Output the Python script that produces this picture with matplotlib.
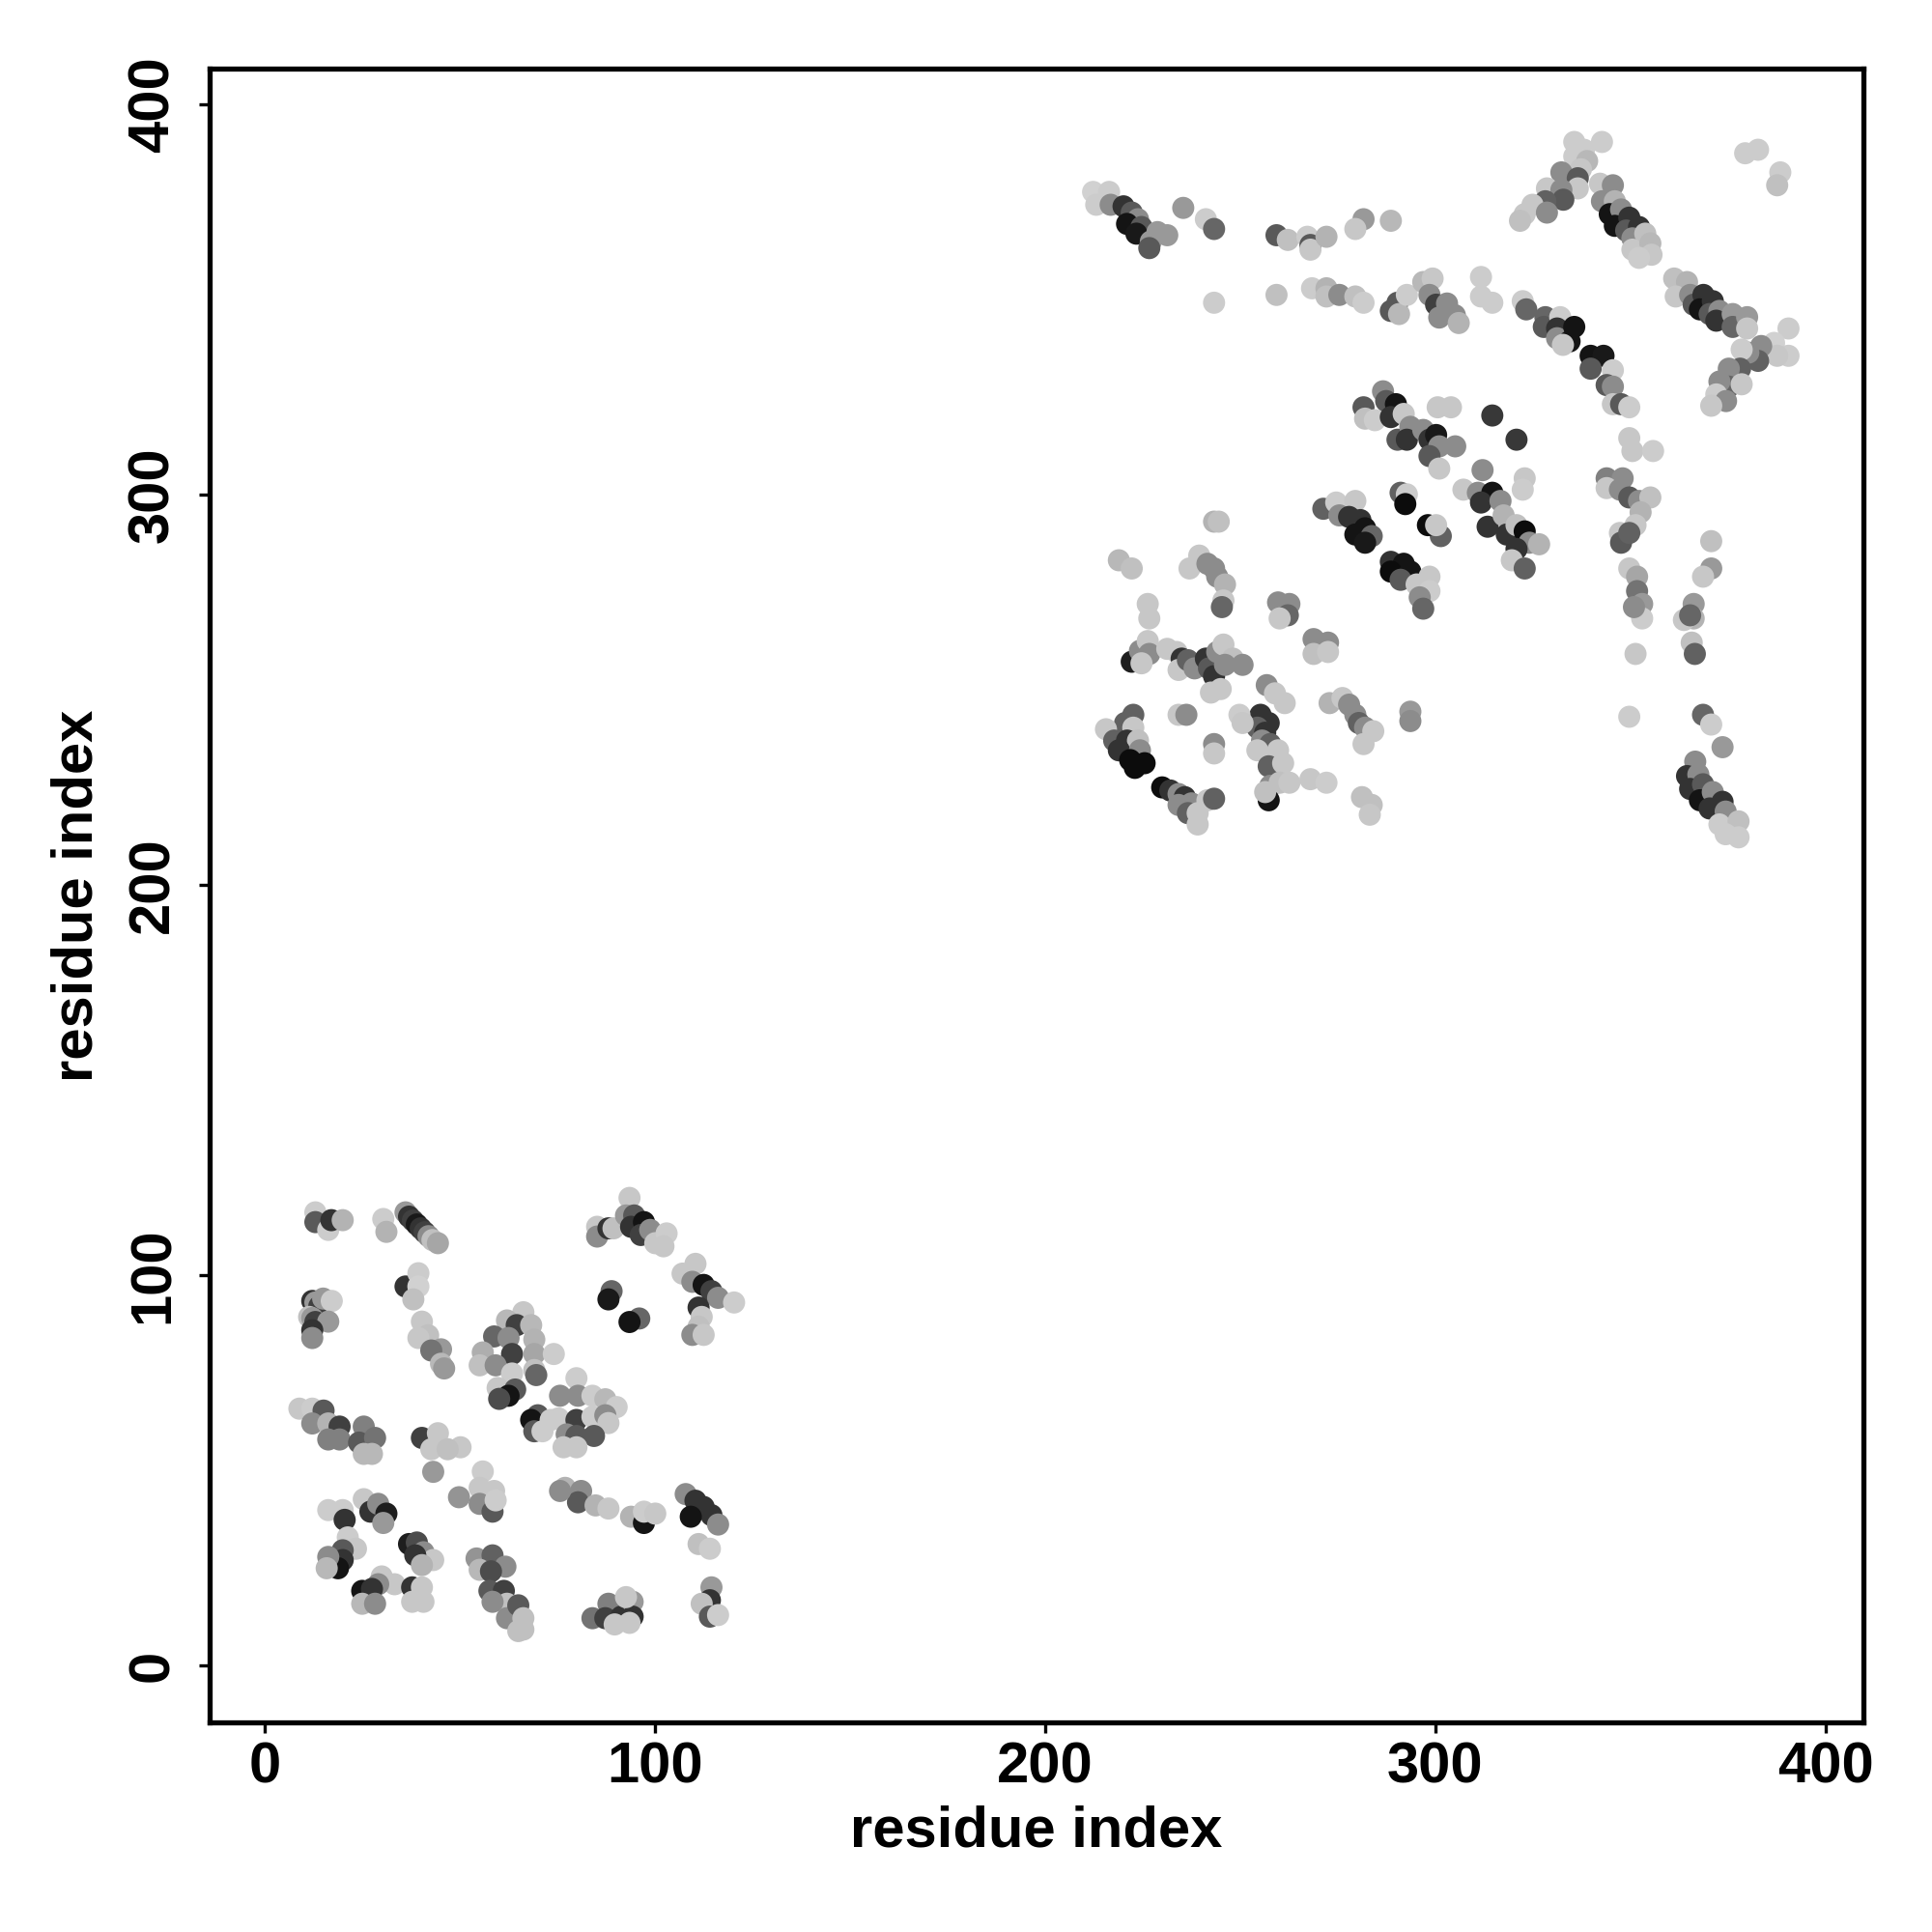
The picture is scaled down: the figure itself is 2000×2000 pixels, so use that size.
import matplotlib
matplotlib.use("Agg")
import matplotlib.pyplot as plt

plt.rcParams['font.family'] = ['Liberation Sans', 'DejaVu Sans']
plt.rcParams['font.weight'] = 'bold'

# ---- domain 1 (lower-left block) : residue i, residue j, grey shade (0=black, 1=white)
dom1_i = [13.0, 13.0, 16.3, 17.1, 20.0,
          30.4, 31.2, 36.1, 37, 38, 39, 40, 41, 42, 43, 44.4,
          36.1, 39.4, 39.4, 38.1,
          12.2, 13, 14, 15, 17.2, 11.4, 12.2, 13, 16.3, 12.2, 12.2,
          40.3, 41.9, 39.4, 45.2, 42.7, 45.2, 46.0,
          88.9, 88.1, 96.0, 93.5,
          66.3, 62.1, 64.6, 68.3, 58.8, 62.5, 69.1, 55.9, 63.4, 69.1, 74.1, 55.1, 59.2, 63.4, 69.1, 69.6, 59.7, 64.2, 62.5, 60.1,
          79.9, 75.7, 80.3, 84.0, 87.3, 90.2, 70.0, 68.3, 73.3, 75.3, 79.9, 84.0, 87.3, 88.1, 69.1, 71.2, 77.4, 79.9, 84.4, 76.6, 79.9, 50.2,
          93.5, 85.2, 85.2, 88.1, 89.4, 92.6, 94.7, 93.9, 97.2, 96.4, 98.8, 100.1, 103.0, 102.2,
          110.4, 107.1, 109.6, 112.5, 114.5, 116.2, 120.3, 111.2, 112.0, 111.2, 109.6, 112.5,
          8.9, 12.2, 15.1, 12.2, 16.3, 19.2, 16.3, 19.2, 25.4, 24.2, 28.3, 25.4, 27.5,
          40.3, 44.4, 42.7, 46.9, 43.2, 49.8,
          55.9, 55.1, 58.8, 55.1, 58.4, 59.2,
          16.3, 20.0, 20.5,
          25.4, 27.1, 29.1, 31.2, 30.4,
          21.3, 23.4, 20.0, 20.0, 18.8, 16.3, 15.9,
          37.0, 39.0, 40.7, 43.2, 38.6, 40.3,
          30.0, 33.3, 29.1, 25.0, 27.5, 25.0, 28.3,
          37.8, 40.3, 37.8, 40.7,
          54.3, 58.4, 61.7, 55.1, 58.0,
          57.6, 61.3, 62.1, 58.4, 64.6, 62.1, 65.0,
          77.0, 81.1, 80.3, 84.8, 88.1, 75.7,
          93.9, 97.2, 97.2, 100.1,
          107.9, 110.4, 112.5, 114.5, 116.2, 109.2, 111.2, 114.1,
          114.5, 114.1, 112.0, 114.1, 116.2,
          84.0, 88.1, 87.3, 91.4, 94.3, 94.3, 92.6, 89.7, 93.5,
          65.0, 66.3, 66.3]
dom1_j = [116.1, 113.6, 111.6, 114.1, 114.1,
          114.4, 111.1, 116.1, 115, 114, 113, 112, 111, 110, 109, 108.2,
          97.1, 100.5, 97.1, 93.8,
          93.4, 93, 92, 94, 93.4, 89.3, 89, 88, 88.1, 85.9, 83.9,
          88.1, 84.6, 83.9, 81.0, 80.7, 77.3, 76.1,
          95.9, 93.8, 88.9, 88.0,
          90.5, 88.4, 87.2, 87.2, 84.3, 83.9, 83.5, 80.2, 79.8, 79.8, 79.8, 76.9, 76.9, 74.8, 75.7, 74.4, 71.1, 70.7, 69.1, 68.3,
          73.6, 69.1, 69.1, 69.1, 68.2, 66.2, 64.1, 62.9, 62.9, 63.3, 62.9, 63.7, 64.1, 62.1, 60.0, 60.0, 59.2, 58.8, 58.8, 55.9, 55.9, 55.9,
          119.8, 112.4, 109.9, 112.0, 112.0, 115.3, 115.3, 112.4, 113.6, 110.3, 111.6, 108.2, 110.7, 107.4,
          102.9, 100.4, 98.3, 97.5, 95.9, 94.2, 93.0, 91.7, 89.3, 86.8, 84.7, 84.7,
          65.8, 65.8, 65.3, 62.0, 62.0, 61.2, 57.9, 57.9, 61.2, 57.1, 58.3, 54.2, 54.2,
          58.3, 59.5, 55.4, 55.4, 49.6, 43.1,
          49.7, 45.5, 44.7, 41.4, 39.4, 42.3,
          39.8, 39.8, 37.3,
          42.6, 39.4, 41.4, 38.9, 36.5,
          32.8, 29.9, 29.5, 27.0, 24.9, 27.8, 24.9,
          31.1, 31.5, 29.0, 27.0, 28.2, 25.7,
          22.8, 20.8, 20.8, 19.1, 19.6, 15.8, 15.8,
          20.0, 20.0, 16.3, 16.3,
          27.4, 28.2, 25.3, 24.5, 24.1,
          19.1, 19.1, 15.8, 16.3, 13.4, 12.1, 8.8,
          45.5, 44.7, 41.8, 41.0, 40.2, 44.7,
          38.1, 36.5, 39.4, 38.9,
          43.9, 42.2, 40.6, 38.5, 36.1, 38.1, 31.1, 29.9,
          20.0, 16.7, 15.8, 12.5, 12.9,
          12.1, 15.8, 12.1, 12.5, 16.3, 12.5, 17.5, 10.5, 10.9,
          15.4, 12.1, 9.2]
dom1_g = [0.80, 0.35, 0.80, 0.20, 0.70,
          0.80, 0.70, 0.60, 0.20, 0.25, 0.10, 0.20, 0.25, 0.55, 0.75, 0.65,
          0.20, 0.80, 0.82, 0.75,
          0.20, 0.60, 0.25, 0.60, 0.80, 0.75, 0.60, 0.25, 0.60, 0.20, 0.55,
          0.78, 0.75, 0.78, 0.60, 0.45, 0.72, 0.60,
          0.40, 0.10, 0.40, 0.08,
          0.78, 0.72, 0.25, 0.72, 0.40, 0.55, 0.70, 0.68, 0.25, 0.65, 0.80, 0.75, 0.55, 0.80, 0.75, 0.40, 0.78, 0.35, 0.08, 0.30,
          0.80, 0.55, 0.55, 0.80, 0.72, 0.80, 0.35, 0.08, 0.80, 0.80, 0.25, 0.80, 0.55, 0.78, 0.35, 0.80, 0.55, 0.35, 0.35, 0.78, 0.78, 0.78,
          0.78, 0.78, 0.55, 0.20, 0.75, 0.60, 0.35, 0.20, 0.08, 0.25, 0.55, 0.78, 0.80, 0.78,
          0.78, 0.78, 0.55, 0.08, 0.25, 0.55, 0.80, 0.20, 0.78, 0.75, 0.55, 0.78,
          0.78, 0.80, 0.35, 0.55, 0.70, 0.25, 0.50, 0.50, 0.50, 0.35, 0.45, 0.72, 0.72,
          0.25, 0.78, 0.78, 0.75, 0.60, 0.58,
          0.80, 0.78, 0.78, 0.55, 0.35, 0.80,
          0.80, 0.80, 0.20,
          0.78, 0.20, 0.55, 0.12, 0.60,
          0.80, 0.78, 0.35, 0.20, 0.08, 0.55, 0.72,
          0.12, 0.30, 0.55, 0.78, 0.20, 0.70,
          0.78, 0.78, 0.55, 0.08, 0.20, 0.72, 0.55,
          0.20, 0.78, 0.78, 0.78,
          0.58, 0.38, 0.55, 0.72, 0.30,
          0.35, 0.25, 0.75, 0.55, 0.35, 0.55, 0.75,
          0.70, 0.55, 0.35, 0.70, 0.78, 0.55,
          0.70, 0.08, 0.80, 0.78,
          0.55, 0.20, 0.20, 0.20, 0.55, 0.08, 0.75, 0.80,
          0.60, 0.20, 0.75, 0.35, 0.80,
          0.45, 0.50, 0.25, 0.20, 0.60, 0.20, 0.78, 0.78, 0.78,
          0.35, 0.75, 0.75]

# ---- domain 2 (upper-right block)
dom2_i = [212.3, 216.4, 213.1, 216.8, 220.1, 222.2, 223.8, 221.0, 224.7, 223.4, 227.1, 228.8, 231.3, 226.7,
          235.4, 241.2, 243.3, 243.3,
          259.3, 262.2, 267.2, 268.0, 268.0, 272.1,
          281.6, 279.5, 288.6,
          259.3, 268.4, 272.1, 272.1, 275.4, 279.5, 281.6,
          288.6, 290.3, 290.7, 292.7, 296.9, 299.3, 298.5, 300.2, 301.0, 303, 305, 306,
          281.6, 282.0, 284.5, 286.6, 287.4, 289.9, 288.6, 291.9, 290.3, 293.6, 292.7, 296.9, 298.5, 300.2, 301.0, 298.5, 301.0, 300.6, 304,
          335.6, 342.7, 338.1, 335.6, 338.9, 337.3, 332.3, 336.5, 336.5, 328.6, 332.3, 332.8, 328.2, 324.9, 328.6, 322.9, 321.7,
          342.2, 345.5, 342.7, 346.0, 344.7, 347.6, 346.0, 349.7, 348.9, 352.2, 350.5, 353.8, 350.5, 355.1, 355.4, 352.2,
          379.4, 382.7, 388.4, 387.6,
          311.7, 311.7, 314.6,
          322.4, 323.3, 328.2, 327.8, 332.0, 331.2, 331.2, 335.6, 334.4, 332.7,
          339.8, 343.1, 339.8, 345.5, 343.9, 345.5, 345.5, 347.6, 349.7,
          361.2, 364.5, 361.6, 365.3, 366.2, 368.7, 367.8, 371.1, 370.3, 372.8, 372.0, 376.2, 376.2, 379.9, 379.9,
          390.5, 386.8, 390.5, 387.6, 383.5, 382.7, 380.2, 378.5, 378.1, 375.2, 375.2, 372.8, 372.0, 374.5, 370.7, 378.5,
          314.6, 320.8,
          349.7, 350.5, 355.8,
          305.1, 312.1, 322.9, 343.9, 348.0,
          307.2, 310.9, 314.6, 311.7, 316.7, 313.4, 317.5, 318.3, 320.8, 322.9, 324.1, 326.6, 320.8, 319.6, 322.9, 322.4,
          343.9, 347.3, 349.7, 352.2, 355.1, 352.6, 351.3, 347.3, 347.6, 349.7,
          349.7, 351.7, 351.7, 353.0, 353.0, 350.9,
          370.7, 370.7, 368.6,
          366.2, 366.2, 363.7, 365.3, 365.7, 366.5,
          351.3, 349.7,
          368.6, 370.7, 373.6,
          366.6, 364.5, 367.4, 365.3, 368.6, 367.8, 371.1, 370.3, 373.6, 374.4, 372.8, 377.7, 377.7, 374.4,
          301.4,
          271.3, 274.6, 279.5, 275.4, 277.9, 280.8, 282.0, 279.5, 283.7, 282.0,
          291.1, 292.7, 292.3,
          298.1, 300.2,
          288.6, 291.9, 288.6, 293.6, 291.1, 295.2, 298.5, 298.5, 296.0, 296.9,
          243.3, 244.5,
          218.9, 222.2,
          237.0, 239.5, 241.6, 243.3, 244.1, 246.1, 245.7, 245.3,
          226.3, 226.7,
          259.7, 262.6, 262.2, 260.1,
          268.8, 272.5, 268.8, 272.5,
          222.2, 224.3, 226.3, 226.7, 224.7,
          231.3, 233.7, 235.0, 234.2, 236.6, 238.3, 241.2, 242.0, 243.3, 242.5, 245.0,
          244.1, 245.7, 248.1, 250.6, 246.1,
          222.6, 220.5, 222.6, 215.6, 217.7, 221.0, 223.8, 218.9, 224.3, 221.8, 225.5, 223.0,
          234.2, 236.2,
          243.3, 243.3,
          256.8, 258.9, 261.4, 255.2, 257.3, 254.4, 256.4, 249.8, 250.6, 255.6, 257.7, 254.4, 259.7, 258.9, 257.3, 261.0,
          257.7, 260.1, 262.6, 257.3, 256.4,
          268.0, 272.1,
          281.2, 283.7, 283.2,
          272.9, 276.2, 277.9, 279.5, 280.4, 282.0, 284.1, 281.6,
          293.6, 293.6,
          230.0, 232.1, 234.2, 235.8, 234.2, 237.5, 236.6, 239.1, 239.1, 241.6, 243.3]
dom2_j = [377.6, 377.6, 374.3, 374.3, 373.9, 372.3, 370.6, 369.4, 368.6, 366.9, 364.9, 367.3, 366.5, 363.2,
          373.5, 370.6, 368.1, 349.2,
          366.5, 365.3, 366.1, 364.0, 362.8, 366.1,
          370.6, 368.1, 370.2,
          351.2, 352.9, 352.9, 350.8, 351.2, 350.8, 349.2,
          347.1, 349.2, 346.3, 351.2, 354.5, 355.4, 351.2, 348.7, 345.4, 349, 346, 344,
          322.4, 319.5, 319.1, 326.5, 324.0, 323.2, 319.9, 320.7, 314.1, 317.4, 314.1, 316.6, 314.1, 315.3, 312.4, 309.9, 306.7, 322.4, 322.4,
          390.4, 390.4, 388.4, 386.7, 385.5, 383.4, 382.6, 381.1, 378.5, 378.5, 378.1, 375.6, 375.2, 374.3, 372.3, 371.9, 370.2,
          379.7, 379.3, 375.2, 375.2, 371.9, 373.1, 368.9, 371.0, 367.7, 368.6, 365.7, 366.9, 362.8, 364.4, 361.5, 360.7,
          387.5, 388.4, 382.6, 379.3,
          355.8, 350.8, 349.2,
          349.6, 347.5, 345.5, 343.0, 345.5, 342.6, 340.1, 343.0, 339.3, 338.4,
          335.6, 335.6, 332.3, 331.9, 328.1, 327.7, 323.2, 323.2, 322.4,
          355.4, 354.5, 350.8, 351.2, 348.7, 351.2, 347.5, 349.6, 346.3, 347.1, 344.6, 346.3, 343.0, 345.5, 342.6,
          342.6, 338.9, 335.6, 335.6, 338.1, 334.3, 336.4, 337.2, 332.3, 332.3, 327.7, 329.0, 325.7, 324.0, 322.8, 328.3,
          320.3, 314.1,
          314.5, 311.2, 311.2,
          312.4, 306.3, 304.2, 304.2, 304.2,
          301.3, 300.5, 300.5, 298.0, 298.4, 291.8, 294.7, 289.8, 292.2, 290.6, 287.7, 287.3, 286.1, 283.2, 281.1, 301.3,
          301.7, 301.3, 299.3, 298.4, 299.3, 295.5, 292.2, 290.2, 287.7, 290.2,
          281.1, 279.0, 275.3, 272.0, 268.3, 271.2,
          288.1, 281.1, 279.0,
          272.0, 268.3, 267.9, 269.1, 262.1, 259.2,
          259.2, 243.1,
          243.6, 241.1, 235.3,
          231.6, 227.9, 228.3, 224.6, 225.8, 221.7, 223.8, 219.6, 221.3, 218.8, 215.5, 216.3, 212.2, 213.0,
          289.4,
          296.4, 298.0, 298.4, 294.7, 294.3, 293.5, 291.4, 289.8, 289.4, 287.7,
          300.5, 300.1, 297.6,
          292.2, 292.2,
          282.8, 282.3, 280.3, 280.3, 278.2, 277.0, 279.0, 275.3, 273.7, 270.8,
          293.1, 293.1,
          283.2, 281.1,
          281.1, 284.4, 282.3, 281.1, 279.0, 277.0, 272.9, 271.2,
          272.0, 268.3,
          272.4, 272.0, 269.1, 268.3,
          263.0, 262.1, 259.2, 259.7,
          257.2, 260.0, 262.5, 259.2, 256.8,
          260.5, 259.7, 258.0, 255.1, 257.6, 255.5, 258.0, 255.5, 253.5, 249.3, 250.2,
          259.7, 261.6, 258.0, 256.4, 256.4,
          243.6, 241.5, 240.3, 239.9, 237.0, 237.0, 237.0, 234.5, 234.5, 232.0, 231.2, 230.0,
          243.6, 243.6,
          236.1, 233.7,
          251.2, 249.1, 246.6, 243.6, 241.5, 240.3, 239.0, 243.6, 241.5, 237.0, 236.1, 234.5, 234.5, 232.0, 230.4, 231.2,
          225.4, 226.2, 226.2, 221.7, 223.8,
          227.1, 226.2,
          222.5, 220.5, 218.0,
          246.6, 247.9, 246.2, 243.6, 241.5, 240.3, 239.4, 236.1,
          244.4, 242.0,
          225.0, 224.2, 223.3, 222.5, 220.5, 220.9, 218.4, 218.4, 215.5, 221.7, 222.1]
dom2_g = [0.82, 0.80, 0.80, 0.55, 0.20, 0.35, 0.55, 0.08, 0.35, 0.10, 0.60, 0.60, 0.60, 0.35,
          0.60, 0.80, 0.40, 0.80,
          0.35, 0.75, 0.80, 0.35, 0.78, 0.70,
          0.60, 0.78, 0.72,
          0.75, 0.80, 0.70, 0.75, 0.55, 0.75, 0.80,
          0.35, 0.35, 0.72, 0.80, 0.72, 0.78, 0.55, 0.25, 0.55, 0.55, 0.55, 0.70,
          0.35, 0.75, 0.80, 0.55, 0.35, 0.08, 0.20, 0.78, 0.35, 0.55, 0.20, 0.55, 0.20, 0.10, 0.55, 0.35, 0.78, 0.78, 0.78,
          0.80, 0.80, 0.80, 0.80, 0.72, 0.78, 0.55, 0.35, 0.78, 0.78, 0.55, 0.35, 0.38, 0.78, 0.55, 0.78, 0.75,
          0.78, 0.55, 0.55, 0.70, 0.08, 0.55, 0.08, 0.20, 0.35, 0.20, 0.55, 0.75, 0.78, 0.72, 0.78, 0.80,
          0.80, 0.80, 0.80, 0.75,
          0.80, 0.80, 0.80,
          0.80, 0.40, 0.40, 0.35, 0.80, 0.20, 0.55, 0.08, 0.08, 0.78,
          0.08, 0.10, 0.35, 0.80, 0.35, 0.55, 0.78, 0.35, 0.80,
          0.75, 0.70, 0.78, 0.55, 0.35, 0.20, 0.08, 0.20, 0.35, 0.55, 0.20, 0.60, 0.40, 0.60, 0.78,
          0.80, 0.82, 0.80, 0.78, 0.55, 0.38, 0.55, 0.80, 0.38, 0.55, 0.40, 0.55, 0.80, 0.55, 0.78, 0.78,
          0.22, 0.22,
          0.78, 0.78, 0.80,
          0.55, 0.55, 0.78, 0.50, 0.55,
          0.78, 0.55, 0.08, 0.20, 0.55, 0.20, 0.70, 0.20, 0.75, 0.05, 0.55, 0.70, 0.20, 0.78, 0.38, 0.80,
          0.78, 0.55, 0.35, 0.55, 0.75, 0.70, 0.78, 0.78, 0.35, 0.38,
          0.78, 0.65, 0.45, 0.60, 0.80, 0.55,
          0.75, 0.60, 0.78,
          0.60, 0.70, 0.78, 0.40, 0.75, 0.38,
          0.78, 0.80,
          0.40, 0.80, 0.60,
          0.55, 0.20, 0.55, 0.20, 0.35, 0.08, 0.55, 0.20, 0.20, 0.55, 0.80, 0.75, 0.80, 0.80,
          0.38,
          0.38, 0.80, 0.78, 0.55, 0.20, 0.20, 0.08, 0.08, 0.40, 0.10,
          0.38, 0.80, 0.05,
          0.05, 0.78,
          0.20, 0.08, 0.05, 0.08, 0.35, 0.78, 0.78, 0.80, 0.55, 0.40,
          0.70, 0.75,
          0.72, 0.75,
          0.78, 0.78, 0.55, 0.55, 0.55, 0.70, 0.78, 0.40,
          0.78, 0.78,
          0.55, 0.55, 0.40, 0.78,
          0.55, 0.55, 0.75, 0.78,
          0.12, 0.55, 0.78, 0.55, 0.78,
          0.78, 0.78, 0.20, 0.78, 0.38, 0.55, 0.20, 0.35, 0.20, 0.78, 0.78,
          0.55, 0.78, 0.75, 0.55, 0.55,
          0.38, 0.38, 0.78, 0.78, 0.38, 0.20, 0.75, 0.20, 0.55, 0.05, 0.05, 0.05,
          0.78, 0.55,
          0.55, 0.78,
          0.55, 0.78, 0.78, 0.20, 0.20, 0.38, 0.20, 0.80, 0.78, 0.55, 0.38, 0.78, 0.78, 0.78, 0.38, 0.78,
          0.55, 0.75, 0.78, 0.08, 0.75,
          0.78, 0.80,
          0.75, 0.75, 0.78,
          0.70, 0.78, 0.55, 0.55, 0.38, 0.55, 0.78, 0.78,
          0.60, 0.55,
          0.05, 0.20, 0.55, 0.20, 0.55, 0.55, 0.38, 0.78, 0.78, 0.78, 0.38]

ticks = [0, 100, 200, 300, 400]
xlabel = "residue index"
ylabel = "residue index"

fig = plt.figure(figsize=(10, 10), dpi=200)
ax = fig.add_axes([0.1085, 0.1085, 0.856, 0.856])

for ii, jj, gg in [(dom1_i, dom1_j, dom1_g), (dom2_i, dom2_j, dom2_g)]:
    ax.scatter(ii, jj, c=gg, cmap='gray', vmin=0, vmax=1, s=68, linewidths=0, zorder=2)

ax.set_xlim(-14.1, 409.7)
ax.set_ylim(-14.6, 409.2)
ax.set_xticks(ticks)
ax.set_yticks(ticks)
ax.set_xticklabels([str(t) for t in ticks], fontsize=21.5, fontweight='bold')
ax.set_yticklabels([str(t) for t in ticks], fontsize=21.5, fontweight='bold',
                   rotation=90, va='center')
ax.tick_params(axis='both', direction='out', length=4, width=1.2, color='black')
ax.tick_params(axis='x', pad=3)
ax.tick_params(axis='y', pad=7)
for sp in ax.spines.values():
    sp.set_linewidth(1.9)
ax.set_xlabel(xlabel, fontsize=21.5, fontweight='bold', labelpad=4)
ax.set_ylabel(ylabel, fontsize=21.5, fontweight='bold', labelpad=8.5)

fig.savefig("out.png", dpi=200, facecolor='white')
